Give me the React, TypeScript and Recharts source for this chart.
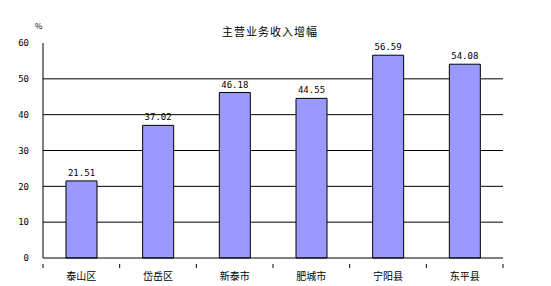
import React from 'react';
import { BarChart, Bar, XAxis, YAxis, CartesianGrid, LabelList } from 'recharts';

const categories = ['泰山区', '岱岳区', '新泰市', '肥城市', '宁阳县', '东平县'];
const growth = [21.51, 37.02, 46.18, 44.55, 56.59, 54.08];
const yTicks = [0, 10, 20, 30, 40, 50, 60];
const gridValues = [10, 20, 30, 40, 50];

const data = categories.map((name, i) => ({ name, value: growth[i] }));

const FONT = '"Noto Sans CJK SC", "DejaVu Sans", sans-serif';

const CatTick = (props: any) => {
  const { x, y, payload, index } = props;
  const half = payload && typeof payload.offset === 'number' ? payload.offset : 0;
  const isLast = index === categories.length - 1;
  return (
    <g>
      <line x1={x - half} x2={x - half} y1={y - 6} y2={y - 2} stroke="#000" />
      {isLast && <line x1={x + half} x2={x + half} y1={y - 6} y2={y - 2} stroke="#000" />}
      <text x={x} y={y + 10} textAnchor="middle" fontFamily={FONT} fontSize={10} fill="#000">
        {payload.value}
      </text>
    </g>
  );
};

export default function App() {
  return (
    <div style={{ position: 'absolute', left: 0, top: 0, width: 551, height: 286, background: '#fff' }}>
      <div style={{ position: 'absolute', left: 0, top: 23, width: 540, textAlign: 'center', fontFamily: FONT, fontSize: 11, color: '#000', letterSpacing: 1 }}>
        主营业务收入增幅
      </div>
      <div style={{ position: 'absolute', left: 35, top: 20, fontFamily: FONT, fontSize: 8, color: '#000' }}>%</div>
      <BarChart
        width={551}
        height={286}
        data={data}
        margin={{ top: 43, right: 48, bottom: 8, left: 0 }}
        barCategoryGap="30%"
      >
        <CartesianGrid horizontal vertical={false} horizontalValues={gridValues} stroke="#000" strokeWidth={1} />
        <XAxis
          dataKey="name"
          axisLine={{ stroke: '#000' }}
          tickLine={false}
          height={20}
          tickMargin={6}
          tick={CatTick}
          interval={0}
        />
        <YAxis
          domain={[0, 60]}
          ticks={yTicks}
          width={43}
          axisLine={{ stroke: '#000' }}
          tickLine={false}
          tickMargin={8}
          tick={{ fontFamily: '"DejaVu Sans Mono", monospace', fontSize: 9, fill: '#000' }}
        />
        <Bar dataKey="value" fill="#9999FF" stroke="#000" strokeWidth={1} isAnimationActive={false}>
          <LabelList dataKey="value" position="top" offset={5} formatter={(v: number) => v.toFixed(2)} style={{ fontFamily: '"DejaVu Sans Mono", monospace', fontSize: 9, fill: '#000' }} />
        </Bar>
      </BarChart>
    </div>
  );
}
